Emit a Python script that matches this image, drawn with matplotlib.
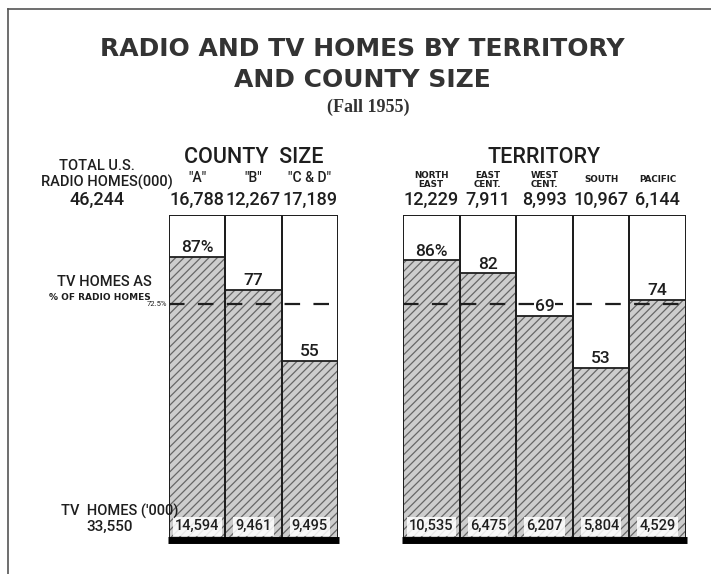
import matplotlib.pyplot as plt
from matplotlib.lines import Line2D

# ---- data ----
county_names = ['"A"', '"B"', '"C & D"']
county_radio = ['16,788', '12,267', '17,189']
county_pct = [87, 77, 55]
county_tv = ['14,594', '9,461', '9,495']

terr_names = ['NORTH\nEAST', 'EAST\nCENT.', 'WEST\nCENT.', 'SOUTH', 'PACIFIC']
terr_radio = ['12,229', '7,911', '8,993', '10,967', '6,144']
terr_pct = [86, 82, 69, 53, 74]
terr_tv = ['10,535', '6,475', '6,207', '5,804', '4,529']

total_radio = '46,244'
total_tv = '33,550'
avg_pct = 72.5

W, H = 711, 574
INK = '#1e1e1e'
HAND = ['Roboto', 'DejaVu Sans']
HW = 'medium'

plt.rcParams['hatch.linewidth'] = 0.9
fig = plt.figure(figsize=(W / 100, H / 100), dpi=100)


def fx(px):
    return px / W


def fy(py):
    return 1 - py / H


def group(left, right, names, radio, pct, tv, title, small_names):
    ax = fig.add_axes([fx(left), fy(540), fx(right - left), fy(215) - fy(540)])
    n = len(names)
    x = list(range(n))
    ax.set_xlim(-0.5, n - 0.5)
    ax.set_ylim(0, 100)
    ax.axis('off')
    ax.bar(x, [100] * n, width=1, color='white', edgecolor=INK, lw=1.3, zorder=1)
    ax.bar(x, pct, width=1, color='#cdcdcd', edgecolor='#666666', lw=0,
           hatch='////', zorder=2)
    ax.bar(x, pct, width=1, fill=False, edgecolor=INK, lw=1.3, zorder=3)
    ax.bar(x, [100] * n, width=1, fill=False, edgecolor=INK, lw=1.3, zorder=3)
    ax.axhline(avg_pct, color=INK, lw=1.6, dashes=(7, 6), zorder=4)
    ax.plot([-0.52, n - 0.48], [0, 0], color='black', lw=5,
            solid_capstyle='butt', clip_on=False, zorder=5)
    for i in x:
        lab = f'{pct[i]}%' if i == 0 else f'{pct[i]}'
        ax.text(i, pct[i] + 0.6, lab, ha='center', va='bottom',
                fontsize=12.5, color=INK, family=HAND, fontweight=HW, zorder=6,
                bbox=dict(boxstyle='square,pad=0.05', fc='white', ec='none'))
        ax.text(i, 4.2, tv[i], ha='center', va='center', fontsize=10.5,
                color=INK, family=HAND, fontweight=HW, zorder=6,
                bbox=dict(boxstyle='square,pad=0.15', fc='white', ec='none', alpha=0.85))
        ax.text(i, 104.5, radio[i], ha='center', va='center', fontsize=13,
                color=INK, family=HAND, fontweight=HW, clip_on=False)
        if small_names:
            ax.text(i, 110.8, names[i], ha='center', va='center', fontsize=6.3,
                    fontweight='bold', color=INK, linespacing=1.0, clip_on=False)
        else:
            ax.text(i, 111.5, names[i], ha='center', va='center', fontsize=10,
                    color=INK, family=HAND, fontweight=HW, clip_on=False)
    ax.text((n - 1) / 2, 117.8, title, ha='center', va='center', fontsize=15.5,
            color=INK, family=HAND, fontweight=HW, clip_on=False)
    return ax


ax1 = group(169, 338, county_names, county_radio, county_pct, county_tv,
            'COUNTY  SIZE', False)
ax2 = group(403, 686, terr_names, terr_radio, terr_pct, terr_tv,
            'TERRITORY', True)

ax1.text(-0.53, avg_pct, f'{avg_pct}%', ha='right', va='center', fontsize=5.5,
         color=INK, family=HAND, clip_on=False)

# left-side captions
fig.text(fx(97), fy(166), 'TOTAL U.S.', ha='center', va='center', fontsize=10.5,
         color=INK, family=HAND, fontweight=HW)
fig.text(fx(107), fy(182), 'RADIO HOMES(000)', ha='center', va='center',
         fontsize=10.5, color=INK, family=HAND, fontweight=HW)
fig.text(fx(97), fy(200), total_radio, ha='center', va='center', fontsize=13,
         color=INK, family=HAND, fontweight=HW)
fig.text(fx(104), fy(282), 'TV HOMES AS', ha='center', va='center',
         fontsize=10.5, color=INK, family=HAND, fontweight=HW)
fig.text(fx(100), fy(298), '% OF RADIO HOMES', ha='center', va='center',
         fontsize=6.5, fontweight='bold', color=INK)
fig.text(fx(120), fy(511), "TV  HOMES ('000)", ha='center', va='center',
         fontsize=10.5, color=INK, family=HAND, fontweight=HW)
fig.text(fx(110), fy(527), total_tv, ha='center', va='center', fontsize=11,
         color=INK, family=HAND, fontweight=HW)

# title
fig.text(fx(362), fy(49), 'RADIO AND TV HOMES BY TERRITORY', ha='center',
         va='center', fontsize=18, fontweight='bold', family='DejaVu Sans',
         color='#333333')
fig.text(fx(362), fy(80), 'AND COUNTY SIZE', ha='center', va='center',
         fontsize=18, fontweight='bold', family='DejaVu Sans',
         color='#333333')
fig.text(fx(368), fy(107), '(Fall 1955)', ha='center', va='center',
         fontsize=13, fontweight='bold', family=['Liberation Serif', 'DejaVu Serif'],
         color='#333333')

# frame lines
fig.add_artist(Line2D([fx(8), 1], [fy(9), fy(9)], color='#555555', lw=1.2))
fig.add_artist(Line2D([fx(8), fx(8)], [fy(9), 0], color='#555555', lw=1.2))

fig.savefig('out.png', dpi=100)
